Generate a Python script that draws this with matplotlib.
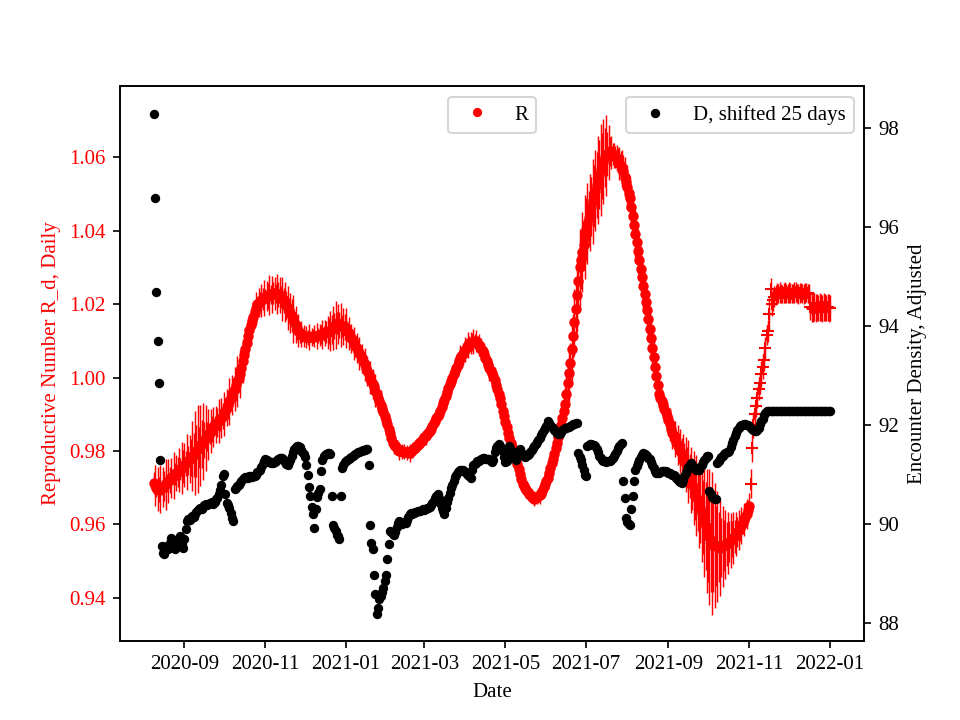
import numpy as np
import pandas as pd
import matplotlib
matplotlib.use("Agg")
import matplotlib.pyplot as plt

plt.rcParams['font.family'] = ['Liberation Serif', 'DejaVu Serif']

# first day of both series
start = '2020-08-09'

# daily R (x 1e-4), 2020-08-09 .. 2021-11-01
r_x1e4 = [
    9712, 9706, 9700, 9697, 9695, 9697, 9700, 9702, 9705, 9709,
    9713, 9717, 9721, 9726, 9730, 9733, 9737, 9740, 9743, 9747,
    9750, 9754, 9758, 9762, 9766, 9770, 9774, 9778, 9782, 9786,
    9790, 9795, 9800, 9805, 9810, 9815, 9820, 9825, 9830, 9835,
    9840, 9845, 9850, 9855, 9860, 9865, 9869, 9873, 9877, 9881,
    9885, 9890, 9895, 9900, 9909, 9918, 9926, 9935, 9943, 9952,
    9960, 9970, 9980, 9990, 10000, 10010, 10027, 10044, 10061, 10078,
    10095, 10112, 10130, 10142, 10154, 10166, 10178, 10189, 10200, 10204,
    10207, 10210, 10213, 10217, 10220, 10222, 10223, 10225, 10226, 10227,
    10229, 10230, 10229, 10228, 10226, 10225, 10220, 10215, 10210, 10205,
    10197, 10190, 10183, 10175, 10168, 10160, 10152, 10144, 10136, 10128,
    10120, 10118, 10116, 10114, 10112, 10110, 10110, 10110, 10111, 10111,
    10112, 10112, 10113, 10114, 10115, 10116, 10117, 10118, 10120, 10121,
    10123, 10124, 10126, 10127, 10131, 10135, 10140, 10144, 10148, 10146,
    10144, 10142, 10140, 10139, 10137, 10135, 10128, 10121, 10114, 10107,
    10101, 10094, 10087, 10080, 10073, 10066, 10059, 10052, 10045, 10036,
    10027, 10018, 10009, 10000, 9991, 9982, 9973, 9964, 9954, 9945,
    9936, 9926, 9915, 9905, 9894, 9884, 9873, 9860, 9848, 9835,
    9822, 9818, 9813, 9809, 9804, 9800, 9799, 9799, 9798, 9798,
    9797, 9796, 9796, 9795, 9799, 9802, 9806, 9809, 9813, 9816,
    9820, 9824, 9828, 9833, 9837, 9841, 9846, 9850, 9854, 9861,
    9868, 9875, 9882, 9889, 9895, 9902, 9909, 9919, 9930, 9940,
    9951, 9961, 9972, 9982, 9991, 10000, 10009, 10018, 10027, 10035,
    10044, 10053, 10059, 10065, 10071, 10076, 10082, 10088, 10094, 10095,
    10097, 10098, 10099, 10100, 10094, 10089, 10083, 10078, 10072, 10063,
    10054, 10044, 10035, 10026, 10019, 10012, 10005, 9993, 9981, 9969,
    9956, 9944, 9927, 9909, 9894, 9880, 9865, 9850, 9835, 9823,
    9812, 9800, 9788, 9777, 9765, 9751, 9738, 9724, 9710, 9705,
    9699, 9694, 9688, 9683, 9680, 9676, 9673, 9670, 9673, 9675,
    9678, 9680, 9683, 9692, 9701, 9709, 9718, 9727, 9740, 9753,
    9766, 9779, 9792, 9808, 9823, 9839, 9854, 9872, 9891, 9909,
    9928, 9956, 9984, 10012, 10040, 10077, 10113, 10150, 10188, 10225,
    10263, 10300, 10321, 10342, 10362, 10383, 10404, 10419, 10434, 10450,
    10465, 10480, 10495, 10509, 10524, 10538, 10553, 10565, 10577, 10588,
    10600, 10604, 10608, 10612, 10616, 10612, 10609, 10605, 10602, 10598,
    10591, 10584, 10576, 10569, 10562, 10547, 10533, 10518, 10504, 10489,
    10465, 10440, 10416, 10392, 10368, 10344, 10321, 10297, 10274, 10250,
    10228, 10205, 10183, 10160, 10133, 10107, 10080, 10055, 10030, 10005,
    9980, 9955, 9945, 9935, 9925, 9915, 9905, 9895, 9884, 9873,
    9861, 9850, 9842, 9833, 9825, 9817, 9808, 9800, 9791, 9782,
    9773, 9764, 9755, 9744, 9733, 9721, 9710, 9699, 9688, 9678,
    9667, 9656, 9645, 9632, 9620, 9607, 9595, 9582, 9573, 9565,
    9556, 9547, 9545, 9543, 9541, 9540, 9538, 9536, 9538, 9540,
    9543, 9545, 9547, 9550, 9553, 9557, 9560, 9563, 9568, 9574,
    9579, 9585, 9590, 9598, 9605, 9613, 9620, 9628, 9640, 9650,
]

# half width of the R error bars (x 1e-4)
r_err_x1e4 = [
    30, 55, 25, 60, 35, 65, 20, 55, 40, 70,
    25, 60, 35, 55, 20, 65, 30, 50, 40, 60,
    30, 70, 45, 60, 35, 75, 40, 65, 50, 95,
    60, 115, 70, 120, 55, 110, 65, 105, 50, 90,
    40, 70, 30, 60, 35, 55, 25, 50, 40, 60,
    30, 55, 35, 60, 25, 50, 40, 65, 30, 55,
    35, 60, 45, 70, 40, 65, 35, 60, 45, 55,
    30, 50, 35, 45, 25, 40, 30, 45, 20, 40,
    25, 45, 30, 50, 20, 40, 35, 55, 25, 50,
    30, 45, 25, 55, 35, 50, 30, 60, 35, 55,
    40, 60, 35, 55, 45, 65, 30, 50, 35, 45,
    25, 35, 20, 30, 15, 30, 20, 35, 15, 25,
    20, 30, 15, 35, 20, 30, 25, 40, 20, 35,
    30, 45, 35, 55, 40, 60, 35, 65, 30, 55,
    35, 60, 30, 50, 35, 55, 25, 45, 30, 40,
    25, 45, 30, 40, 25, 45, 30, 40, 30, 45,
    30, 40, 30, 45, 25, 40, 30, 45, 30, 40,
    25, 40, 25, 35, 25, 40, 25, 35, 25, 30,
    15, 25, 10, 20, 15, 25, 10, 20, 15, 20,
    10, 20, 15, 25, 10, 20, 15, 20, 10, 20,
    15, 20, 10, 20, 15, 25, 10, 20, 15, 20,
    10, 20, 15, 20, 10, 25, 15, 20, 10, 20,
    15, 25, 20, 30, 15, 30, 20, 35, 25, 30,
    20, 35, 25, 30, 20, 35, 25, 35, 20, 30,
    25, 35, 20, 30, 20, 30, 25, 30, 25, 30,
    25, 30, 25, 35, 25, 30, 25, 35, 30, 35,
    30, 35, 30, 40, 30, 35, 30, 35, 30, 35,
    30, 35, 25, 30, 25, 30, 20, 25, 15, 20,
    10, 15, 10, 20, 10, 15, 10, 20, 15, 20,
    15, 25, 15, 20, 20, 30, 25, 30, 25, 35,
    30, 40, 35, 45, 35, 45, 40, 50, 45, 55,
    45, 60, 50, 75, 55, 85, 60, 90, 70, 100,
    75, 105, 80, 110, 70, 115, 85, 110, 75, 105,
    80, 115, 85, 110, 90, 120, 95, 125, 90, 115,
    80, 110, 60, 75, 40, 45, 30, 35, 30, 35,
    35, 45, 40, 50, 45, 55, 50, 60, 50, 60,
    50, 60, 50, 65, 55, 60, 50, 60, 55, 60,
    50, 55, 45, 55, 45, 50, 40, 45, 35, 40,
    30, 35, 25, 35, 25, 35, 25, 40, 30, 45,
    30, 45, 35, 50, 30, 55, 40, 60, 45, 65,
    50, 75, 55, 85, 60, 90, 70, 100, 75, 110,
    85, 120, 95, 135, 100, 150, 120, 170, 130, 185,
    140, 195, 130, 170, 110, 150, 95, 130, 80, 110,
    70, 95, 60, 85, 55, 75, 50, 70, 45, 60,
    40, 55, 35, 50, 30, 45, 30, 40, 25, 35,
]

# R after 2021-11-02, drawn with '+' markers (x 1e-4)
r_late_x1e4 = [
    9711, 9809, 9870, 9900, 9922, 9945, 9968, 9985, 10010, 10030,
    10047, 10080, 10116, 10127, 10172, 10240, 10199, 10210, 10220, 10225,
    10230, 10228, 10231, 10229, 10227, 10230, 10232, 10228, 10229, 10231,
    10230, 10228, 10229, 10231, 10232, 10229, 10228, 10230, 10231, 10229,
    10228, 10230, 10231, 10229, 10227, 10193, 10190, 10188, 10192, 10190,
    10190, 10189, 10191, 10190, 10188, 10192, 10190, 10189, 10191, 10190,
    10190,
]
r_late_err_x1e4 = [
    40, 38, 35, 30, 30, 28, 30, 30, 35, 35,
    30, 30, 28, 30, 45, 32, 30, 30, 28, 28,
    27, 26, 28, 27, 25, 27, 28, 26, 27, 28,
    27, 26, 27, 28, 27, 26, 28, 27, 26, 27,
    27, 28, 26, 27, 28, 37, 38, 36, 37, 38,
    37, 36, 38, 37, 36, 38, 37, 36, 37, 38,
    36,
]

# encounter density, already shifted 25 days, daily from the same start
d_shifted = [
    98.3, 96.6, 94.7, 93.7, 92.85, 91.3, 89.56, 89.42, 89.4, 89.5,
    89.55, 89.5, 89.62, 89.72, 89.65, 89.56, 89.5, 89.6, 89.7, 89.65,
    89.76, 89.6, 89.52, 89.7, 89.9, 90.06, 90.1, 90.08, 90.12, 90.16,
    90.14, 90.2, 90.25, 90.28, 90.3, 90.33, 90.3, 90.35, 90.38, 90.4,
    90.38, 90.4, 90.42, 90.42, 90.45, 90.4, 90.44, 90.5, 90.53, 90.6,
    90.68, 90.8, 90.97, 91.01, 90.6, 90.43, 90.38, 90.33, 90.23, 90.12,
    90.06, 90.7, 90.72, 90.78, 90.8, 90.83, 90.88, 90.92, 90.94, 90.95,
    90.96, 90.94, 90.97, 90.97, 90.96, 90.98, 90.97, 91.0, 91.05, 91.07,
    91.1, 91.15, 91.22, 91.28, 91.31, 91.3, 91.27, 91.25, 91.24, 91.26,
    91.24, 91.25, 91.28, 91.3, 91.32, 91.34, 91.33, 91.34, 91.3, 91.25,
    91.22, 91.2, 91.25, 91.3, 91.38, 91.45, 91.52, 91.56, 91.58, 91.58,
    91.55, 91.5, 91.45, 91.41, 91.35, 91.2, 91.0, 90.75, 90.57, 90.35,
    90.2, 89.93, 90.3, 90.55, 90.63, 90.7, 91.07, 91.3, 91.37, 91.4,
    91.42, 91.43, 91.44, 91.41, 90.57, 89.99, 89.92, 89.86, 89.78, 89.75,
    89.69, 90.57, 91.13, 91.2, 91.25, 91.28, 91.3, 91.32, 91.34, 91.35,
    91.38, 91.4, 91.42, 91.44, 91.45, 91.45, 91.47, 91.48, 91.5, 91.5,
    91.52, 91.51, 91.2, 89.99, 89.62, 89.49, 88.98, 88.58, 88.18, 88.3,
    88.48, 88.55, 88.62, 88.71, 88.85, 88.98, 89.3, 89.6, 89.86, 89.84,
    89.8, 89.77, 89.85, 89.95, 90.03, 90.06, 90.02, 90.0, 90.03, 90.04,
    90.02, 90.08, 90.15, 90.2, 90.22, 90.2, 90.23, 90.25, 90.24, 90.26,
    90.27, 90.26, 90.28, 90.3, 90.29, 90.31, 90.33, 90.32, 90.34, 90.38,
    90.42, 90.46, 90.52, 90.57, 90.6, 90.52, 90.42, 90.32, 90.26, 90.2,
    90.32, 90.45, 90.53, 90.62, 90.73, 90.8, 90.88, 90.95, 91.0, 91.06,
    91.08, 91.09, 91.1, 91.1, 91.08, 91.05, 91.02, 90.99, 90.97, 90.94,
    91.1, 91.2, 91.22, 91.24, 91.27, 91.28, 91.3, 91.32, 91.34, 91.33,
    91.32, 91.31, 91.32, 91.31, 91.28, 91.25, 91.3, 91.45, 91.54, 91.58,
    91.61, 91.58, 91.52, 91.47, 91.35, 91.25, 91.28, 91.45, 91.58, 91.5,
    91.42, 91.38, 91.32, 91.3, 91.4, 91.48, 91.51, 91.45, 91.4, 91.37,
    91.36, 91.37, 91.4, 91.42, 91.46, 91.5, 91.54, 91.58, 91.62, 91.66,
    91.7, 91.74, 91.8, 91.85, 91.9, 91.95, 91.98, 92.08, 92.04, 92.0,
    91.97, 91.95, 91.9, 91.87, 91.85, 91.83, 91.82, 91.86, 91.9, 91.92,
    91.94, 91.95, 91.96, 91.97, 91.98, 92.0, 92.02, 92.03, 92.04, 92.05,
    91.44, 91.35, 91.3, 91.2, 91.1, 91.0, 90.97, 91.58, 91.6, 91.62,
    91.61, 91.6, 91.6, 91.58, 91.52, 91.45, 91.37, 91.33, 91.3, 91.28,
    91.27, 91.26, 91.27, 91.27, 91.27, 91.3, 91.34, 91.37, 91.42, 91.48,
    91.53, 91.58, 91.61, 91.63, 90.87, 90.53, 90.13, 90.05, 90.0, 89.99,
    90.3, 90.57, 90.87, 91.1, 91.17, 91.24, 91.3, 91.36, 91.4, 91.44,
    91.42, 91.4, 91.37, 91.34, 91.31, 91.26, 91.2, 91.13, 91.08, 91.04,
    91.03, 91.04, 91.06, 91.07, 91.08, 91.07, 91.07, 91.06, 91.04, 91.03,
    91.02, 91.0, 91.0, 90.97, 90.94, 90.9, 90.87, 90.85, 90.83, 90.9,
    90.97, 91.04, 91.1, 91.16, 91.2, 91.24, 91.2, 91.16, 91.12, 91.1,
    91.1, 91.1, 91.15, 91.2, 91.25, 91.3, 91.34, 91.37, 91.37, 90.67,
    90.6, 90.55, 90.52, 90.5, 90.5, 91.24, 91.28, 91.32, 91.35, 91.38,
    91.41, 91.43, 91.45, 91.46, 91.47, 91.55, 91.63, 91.7, 91.78, 91.84,
    91.9, 91.95, 91.98, 92.0, 92.01, 92.02, 92.02, 92.01, 92.0, 91.98,
    91.95, 91.92, 91.9, 91.88, 91.88, 91.9, 91.95, 92.02, 92.08, 92.12,
    92.2, 92.25, 92.28, 92.28, 92.28, 92.28, 92.28, 92.28, 92.28, 92.28,
    92.28, 92.28, 92.28, 92.28, 92.28, 92.28, 92.28, 92.28, 92.28, 92.28,
    92.28, 92.28, 92.28, 92.28, 92.28, 92.28, 92.28, 92.28, 92.28, 92.28,
    92.28, 92.28, 92.28, 92.28, 92.28, 92.28, 92.28, 92.28, 92.28, 92.28,
    92.28, 92.28, 92.28, 92.28, 92.28, 92.28, 92.28, 92.28, 92.28, 92.28,
    92.28,
]

r = np.array(r_x1e4) / 1e4
r_err = np.array(r_err_x1e4) / 1e4
r_late = np.array(r_late_x1e4) / 1e4
r_late_err = np.array(r_late_err_x1e4) / 1e4

dates_r = pd.date_range(start, periods=len(r), freq='D')
dates_late = pd.date_range(dates_r[-1] + pd.Timedelta(days=1), periods=len(r_late), freq='D')
dates_d = pd.date_range(start, periods=len(d_shifted), freq='D')

fig, ax1 = plt.subplots(figsize=(6.4, 4.8), dpi=150)
ax2 = ax1.twinx()

ax1.errorbar(dates_r, r, yerr=r_err, fmt='none', ecolor='red', elinewidth=0.7)
ax1.plot(dates_r, r, 'o', color='red', ms=4, label='R')
ax1.errorbar(dates_late, r_late, yerr=r_late_err, fmt='+', color='red',
             ms=6, elinewidth=0.7)

ax2.plot(dates_d, d_shifted, 'o', color='black', ms=3.5, label='D, shifted 25 days')

ax1.set_ylim(0.9283, 1.0793)
ax2.set_ylim(87.64, 98.85)

ax1.set_xlabel('Date')
ax1.set_ylabel('Reproductive Number R_d, Daily', color='red')
ax1.tick_params(axis='y', labelcolor='red')
ax2.set_ylabel('Encounter Density, Adjusted')

ax1.legend(loc='upper center', markerscale=0.85)
ax2.legend(loc='upper right')

fig.savefig('out.png')
